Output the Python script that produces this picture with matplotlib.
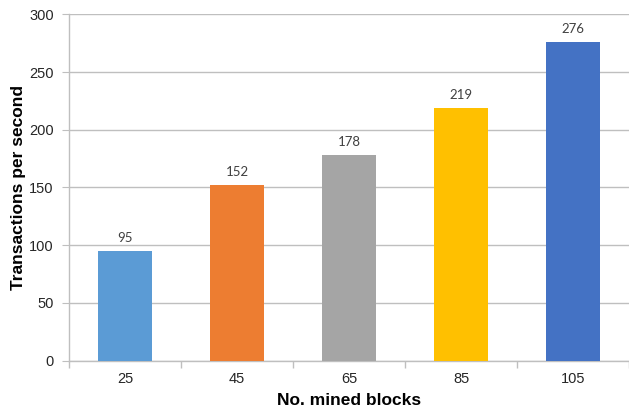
import matplotlib
matplotlib.use("Agg")
import matplotlib.pyplot as plt

categories = ["25", "45", "65", "85", "105"]
values = [95, 152, 178, 219, 276]
colors = ["#5B9BD5", "#ED7D31", "#A5A5A5", "#FFC000", "#4472C4"]
yticks = [0, 50, 100, 150, 200, 250, 300]

plt.rcParams['font.family'] = ['Liberation Sans', 'DejaVu Sans']

fig = plt.figure(figsize=(6.29, 4.11), dpi=100)
ax = fig.add_axes([69/629, 1-360.5/411, 560/629, (360.5-14.5)/411])

x = list(range(len(categories)))
bars = ax.bar(x, values, width=0.49, color=colors, zorder=3)
for xi, v in zip(x, values):
    ax.text(xi, v + 6, str(v), ha='center', va='bottom', fontsize=9.5,
            family=['Lato', 'DejaVu Sans'], color='#404040')

ax.set_xlim(-0.5, len(categories) - 0.5)
ax.set_ylim(0, 300)
ax.set_yticks(yticks)
ax.set_xticks(x)
ax.set_xticklabels(categories)
ax.set_xticks([i + 0.5 for i in range(-1, len(categories))], minor=True)
ax.tick_params(axis='x', which='major', length=0, labelsize=10.5, pad=8, colors='#262626')
ax.tick_params(axis='x', which='minor', length=5, color='#BFBFBF', width=1)
ax.tick_params(axis='y', which='major', length=5, color='#BFBFBF', labelsize=10.5, pad=6, labelcolor='#262626')
ax.grid(axis='y', color='#BFBFBF', linewidth=1, zorder=0)
for s in ['top', 'right']:
    ax.spines[s].set_visible(False)
for s in ['left', 'bottom']:
    ax.spines[s].set_color('#BFBFBF')
    ax.spines[s].set_linewidth(1)

ax.set_xlabel("No. mined blocks", fontsize=12.5, fontweight='bold', labelpad=5)
ax.set_ylabel("Transactions per second", fontsize=12.5, fontweight='bold', labelpad=2)

fig.savefig("out.png", dpi=100)
